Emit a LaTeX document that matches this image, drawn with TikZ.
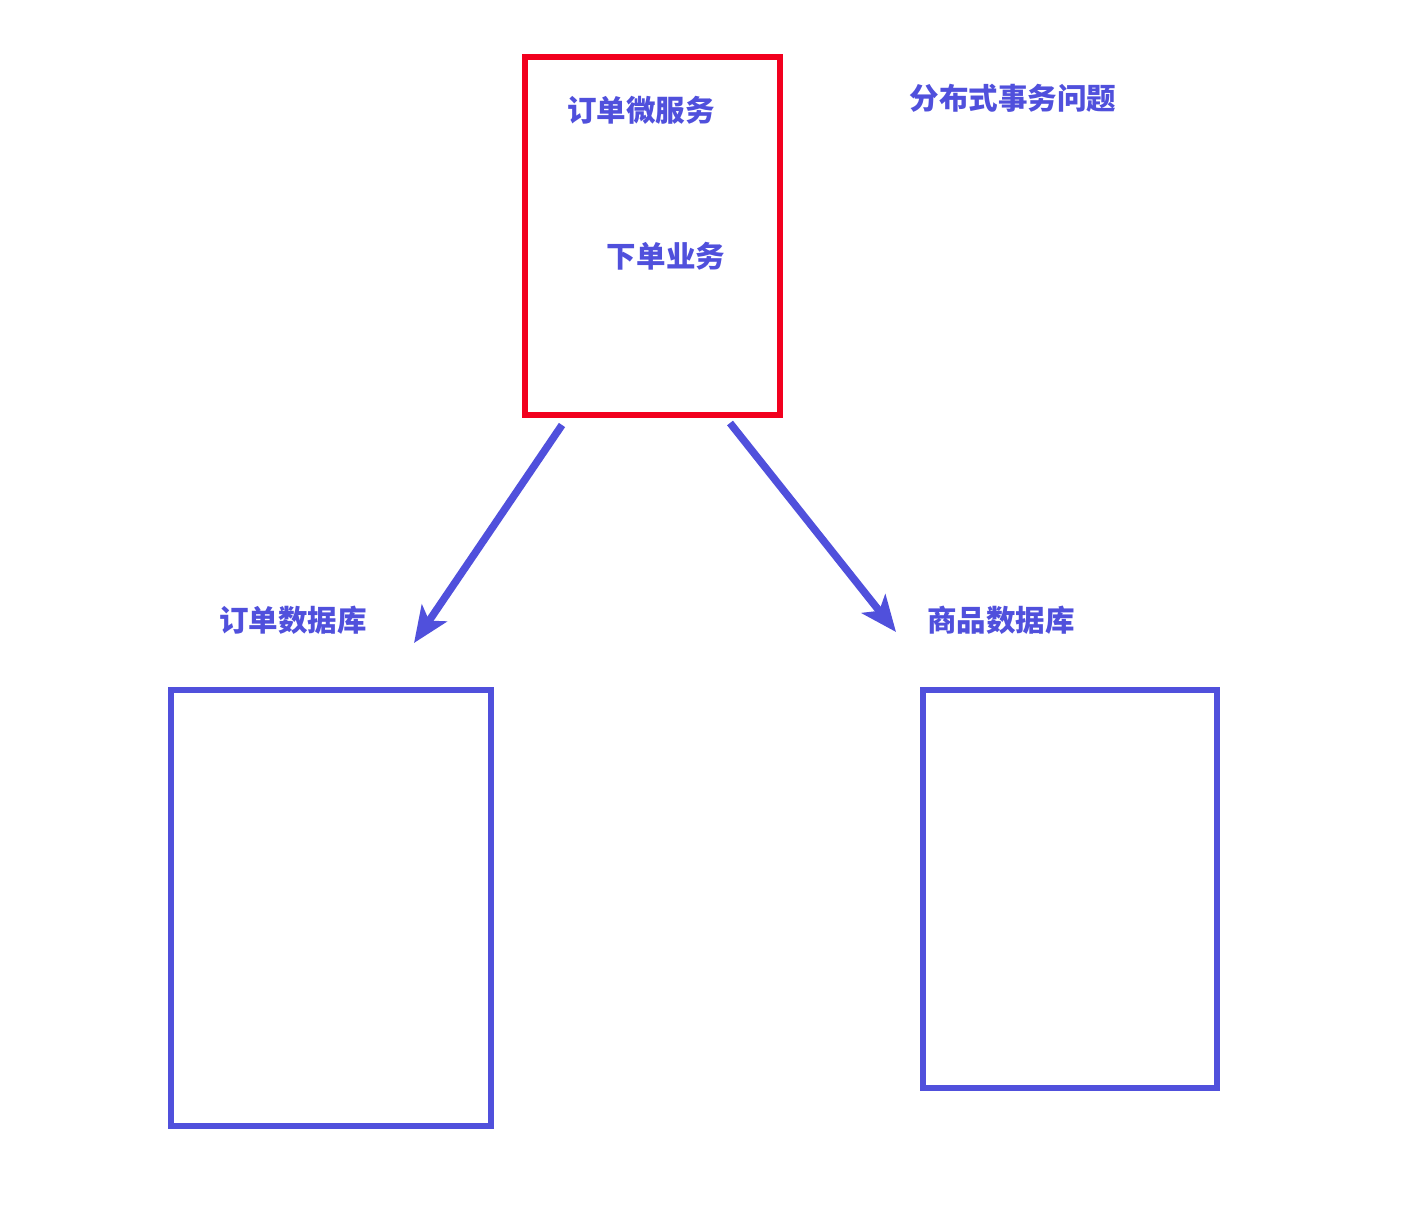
\documentclass[tikz,border=0pt]{standalone}
\usepackage{fontspec}
\newfontfamily\cjk{Noto Sans CJK SC}
\usepackage{tikz}
\usetikzlibrary{arrows.meta}
\definecolor{ublue}{HTML}{5050DC}
\definecolor{ured}{HTML}{F2001E}
\tikzstyle{svcbox}=[rectangle, draw=ured, line width=0.055cm, inner sep=0pt]
\tikzstyle{dbbox}=[rectangle, draw=ublue, line width=0.055cm, inner sep=0pt]
\tikzstyle{txt}=[text=ublue, font=\cjk\bfseries\fontsize{8.4pt}{10pt}\selectfont, inner sep=0pt]
\tikzstyle{flow}=[ublue, line width=0.075cm, -{Stealth[length=0.36cm, width=0.30cm, inset=0.09cm]}]

\begin{document}
\begin{tikzpicture}
\useasboundingbox (0,0) rectangle (14.04,12.30);
\node[svcbox, minimum width=2.55cm, minimum height=3.58cm] (SVC) at (6.525, 9.94) {};
\node[dbbox, minimum width=3.20cm, minimum height=4.36cm] (ODB) at (3.31, 3.22) {};
\node[dbbox, minimum width=2.94cm, minimum height=3.98cm] (GDB) at (10.70, 3.41) {};
\node[txt] (SVCname) at (6.41, 11.20) {订单微服务};
\node[txt] (ORDER) at (6.66, 9.74) {下单业务};
\node[txt] (TITLE) at (10.13, 11.32) {分布式事务问题};
\node[txt] (ODBname) at (2.93, 6.10) {订单数据库};
\node[txt] (GDBname) at (10.01, 6.10) {商品数据库};
\coordinate (Lfrom) at (5.62, 8.05);
\coordinate (Lto) at (4.14, 5.87);
\coordinate (Rfrom) at (7.30, 8.07);
\coordinate (Rto) at (8.96, 5.98);
\draw[flow] (Lfrom) -- (Lto);
\draw[flow] (Rfrom) -- (Rto);
\end{tikzpicture}
\end{document}
